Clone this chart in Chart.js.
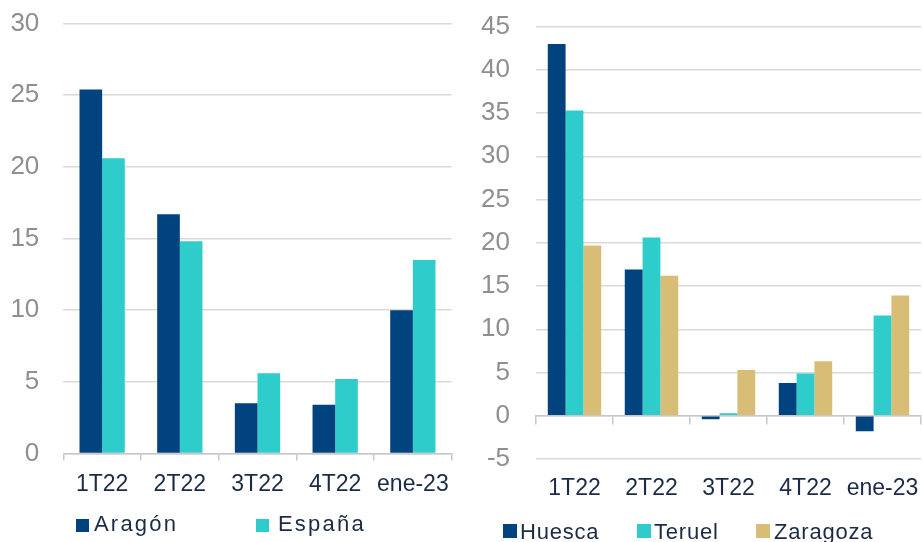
<!DOCTYPE html>
<html>
<head>
<meta charset="utf-8">
<script src="https://cdn.jsdelivr.net/npm/chart.js@4/dist/chart.umd.min.js"></script>
<style>
    html, body { margin: 0; padding: 0; background: #fff; }
    #page { position: relative; width: 922px; height: 542px; overflow: hidden; font-family: "Liberation Sans", Arial, sans-serif; }
    .box { position: absolute; }
    .legend-item { position: absolute; font-size: 22px; line-height: 22px; color: #1b2a45; white-space: nowrap; }
    .legend-swatch { position: absolute; }
</style>
</head>
<body>
<div id="page">
    <div class="box" style="left:0;top:0;width:460px;height:510px;"><canvas id="leftChart"></canvas></div>
    <div class="box" style="left:460px;top:0;width:462px;height:515px;"><canvas id="rightChart"></canvas></div>
</div>
<script>
const categories = ["1T22", "2T22", "3T22", "4T22", "ene-23"];

const aragon = [25.4, 16.7, 3.5, 3.4, 10.0];
const espana = [20.6, 14.8, 5.6, 5.2, 13.5];

const huesca = [43.0, 16.9, -0.4, 3.8, -1.8];
const teruel = [35.3, 20.6, 0.3, 4.9, 11.6];
const zaragoza = [19.7, 16.2, 5.3, 6.3, 13.9];

const BLUE = "#00437f";
const CYAN = "#2ecdcb";
const TAN = "#d8bd76";
const GRID = "#d9d9d9";
const AXIS = "#c8c8c8";
const TICK_GREY = "#8f8f8f";
const NAVY = "#1b2a45";
const FONT = "'Liberation Sans', Arial, sans-serif";

// pin axis sizes so the plot area lands where the original has it
function fixWidth(w) {
    return scale => { scale.width = w; scale.paddingTop = 0; scale.paddingBottom = 0; };
}
function fixHeight(h) {
    return scale => { scale.height = h; scale.paddingLeft = 0; scale.paddingRight = 0; };
}

function barSet(label, data, color) {
    return { label, data, backgroundColor: color, borderWidth: 0 };
}

// left: Aragón vs España
new Chart(document.getElementById("leftChart"), {
    type: "bar",
    data: {
        labels: categories,
        datasets: [barSet("Aragón", aragon, BLUE), barSet("España", espana, CYAN)]
    },
    options: {
        responsive: true,
        maintainAspectRatio: false,
        animation: false,
        layout: { padding: { top: 23.5, right: 8.3, left: 0, bottom: 0 } },
        datasets: { bar: { categoryPercentage: 0.583, barPercentage: 1 } },
        plugins: { legend: { display: false }, tooltip: { enabled: false } },
        scales: {
            x: {
                offset: true,
                afterFit: fixHeight(56.5),
                border: { display: true, color: AXIS, width: 1.5 },
                grid: { offset: true, drawOnChartArea: false, drawTicks: true, tickLength: 7, color: AXIS, lineWidth: 1.5 },
                ticks: { color: NAVY, padding: 10, maxRotation: 0, autoSkip: false, font: { family: FONT, size: 23 } }
            },
            y: {
                min: 0,
                max: 30,
                afterFit: fixWidth(63.3),
                border: { display: false },
                grid: { color: GRID, lineWidth: 1.5, drawTicks: false },
                ticks: { stepSize: 5, color: TICK_GREY, padding: 24, font: { family: FONT, size: 26 } }
            }
        }
    }
});

// right: provincias
new Chart(document.getElementById("rightChart"), {
    type: "bar",
    data: {
        labels: categories,
        datasets: [barSet("Huesca", huesca, BLUE), barSet("Teruel", teruel, CYAN), barSet("Zaragoza", zaragoza, TAN)]
    },
    options: {
        responsive: true,
        maintainAspectRatio: false,
        animation: false,
        layout: { padding: { top: 26.6, right: 1, left: 0, bottom: 0 } },
        datasets: { bar: { categoryPercentage: 0.694, barPercentage: 1 } },
        plugins: { legend: { display: false }, tooltip: { enabled: false } },
        scales: {
            x: {
                offset: true,
                afterFit: fixHeight(56),
                border: { display: false },
                grid: { display: false, drawTicks: false },
                ticks: { color: NAVY, padding: 16, maxRotation: 0, autoSkip: false, font: { family: FONT, size: 23 } }
            },
            x0: {
                type: "category",
                axis: "x",
                position: { y: 0 },
                offset: true,
                border: { display: true, color: AXIS, width: 1.5 },
                grid: { offset: true, drawOnChartArea: false, drawTicks: true, tickLength: 8, color: AXIS, lineWidth: 1.5 },
                ticks: { display: false }
            },
            y: {
                min: -5,
                max: 45,
                afterFit: fixWidth(76),
                border: { display: false },
                grid: { color: GRID, lineWidth: 1.5, drawTicks: false },
                ticks: { stepSize: 5, color: TICK_GREY, padding: 26, font: { family: FONT, size: 26 } }
            }
        }
    }
});

// html legends
const legendLeft = [
    { name: "Aragón", color: BLUE, box: 76, text: 94 },
    { name: "España", color: CYAN, box: 256, text: 278 }
];
const legendRight = [
    { name: "Huesca", color: BLUE, box: 503, text: 520 },
    { name: "Teruel", color: CYAN, box: 637, text: 654 },
    { name: "Zaragoza", color: TAN, box: 756, text: 774 }
];

function addLegend(items, boxTop, boxSize, textTop, spacing) {
    const page = document.getElementById("page");
    items.forEach(item => {
        const sw = document.createElement("div");
        sw.className = "legend-swatch";
        sw.style.cssText = `left:${item.box}px;top:${boxTop}px;width:${boxSize}px;height:${boxSize}px;background:${item.color};`;
        page.appendChild(sw);
        const tx = document.createElement("div");
        tx.className = "legend-item";
        tx.style.cssText = `left:${item.text}px;top:${textTop}px;letter-spacing:${spacing}px;`;
        tx.textContent = item.name;
        page.appendChild(tx);
    });
}

addLegend(legendLeft, 519, 13, 512.6, 2.2);
addLegend(legendRight, 524, 14, 521.2, 0.8);
</script>
</body>
</html>
